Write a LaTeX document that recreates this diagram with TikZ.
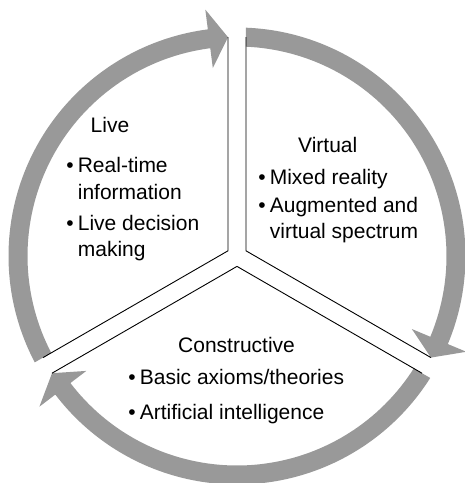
\documentclass[tikz,border=0pt]{standalone}
\usepackage{fontspec}
\setmainfont{Liberation Sans}
\definecolor{ringgray}{RGB}{153,153,153}
% One curved arrow of the cycle: #1 = tail angle, #2 = tip angle (runs clockwise)
\newcommand{\cyclearrow}[2]{%
  \fill[ringpart] ({#1-2.257}:228.5)
    arc[start angle={#1-2.257}, end angle={#2+7.33}, radius=228.5]
    -- ({#2+7.33}:248.5) -- ({#2+2.355}:219) -- ({#2+7.33}:189.5)
    -- ({#2+7.33}:209.5)
    arc[start angle={#2+7.33}, end angle={#1-2.462}, radius=209.5] -- cycle;}
\begin{document}
\begin{tikzpicture}[x=1pt, y=1pt,
  txt/.style={inner sep=0pt, anchor=base west, font=\fontsize{21}{26.5}\selectfont},
  divider/.style={line width=0.9pt, draw=black},
  ringpart/.style={fill=ringgray, draw=none}]
\useasboundingbox (-237,-227) rectangle (228,256);

% the three arrows of the cycle
\cyclearrow{210}{90}
\cyclearrow{90}{-30}
\cyclearrow{-30}{-150}

% corners of the three sectors and the ends of their edges
\coordinate (jL) at (150:10.39);
\coordinate (jV) at (30:10.39);
\coordinate (jC) at (270:10.39);
\coordinate (L1) at (92.355:219);
\coordinate (L2) at (207.645:219);
\coordinate (V1) at (87.645:219);
\coordinate (V2) at (332.355:219);
\coordinate (C1) at (212.355:219);
\coordinate (C2) at (327.645:219);

\draw[divider] (L1) -- (jL) -- (L2);
\draw[divider] (V1) -- (jV) -- (V2);
\draw[divider] (C1) -- (jC) -- (C2);

% Live
\node[txt] (liveT) at (-146.5,123.7) {Live};
\node[txt] (live1) at (-170.7,83.3) {\textbullet\hspace{4pt}\begin{tabular}[t]{@{}l@{}}Real-time\\information\end{tabular}};
\node[txt] (live2) at (-170.7,26) {\textbullet\hspace{4pt}\begin{tabular}[t]{@{}l@{}}Live decision\\making\end{tabular}};

% Virtual
\node[txt] (virtT) at (61,104) {Virtual};
\node[txt] (virt1) at (21.3,72) {\textbullet\hspace{4pt}\begin{tabular}[t]{@{}l@{}}Mixed reality\end{tabular}};
\node[txt] (virt2) at (21.3,44) {\textbullet\hspace{4pt}\begin{tabular}[t]{@{}l@{}}Augmented and\\virtual spectrum\end{tabular}};

% Constructive
\node[txt] (consT) at (-59,-96) {Constructive};
\node[txt] (cons1) at (-108.7,-128) {\textbullet\hspace{4pt}\begin{tabular}[t]{@{}l@{}}Basic axioms/theories\end{tabular}};
\node[txt] (cons2) at (-108.7,-163) {\textbullet\hspace{4pt}\begin{tabular}[t]{@{}l@{}}Artificial intelligence\end{tabular}};
\end{tikzpicture}
\end{document}
